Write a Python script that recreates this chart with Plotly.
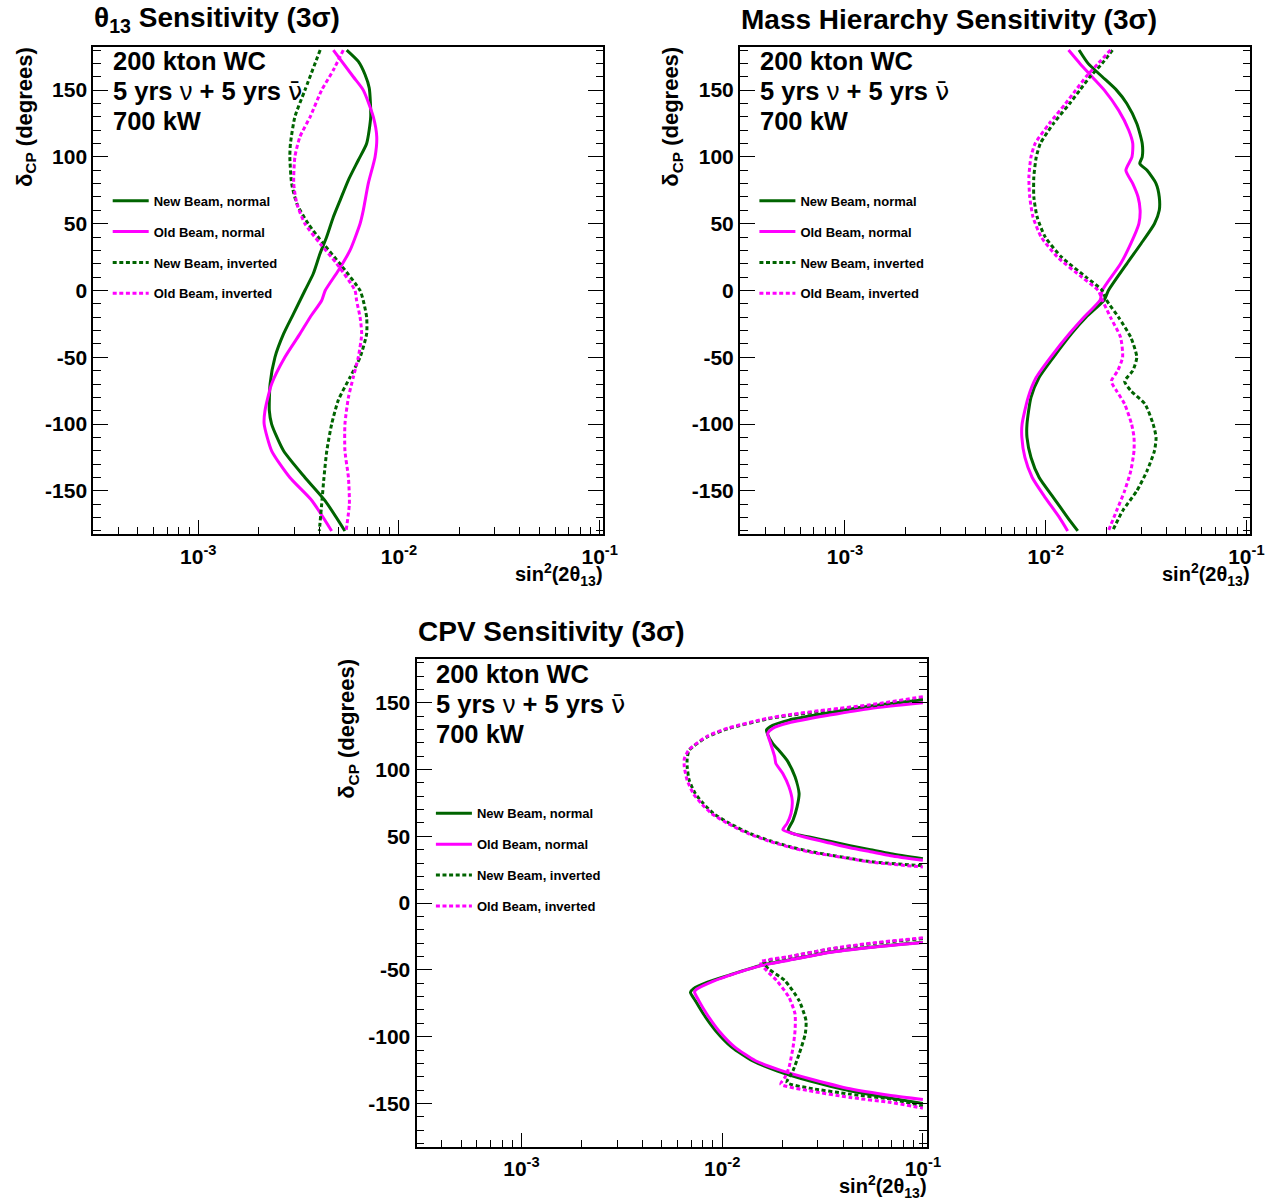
import plotly.graph_objects as go

W, H = 1275, 1203          # reference picture size (layout coordinates below)
FIG_W = 1290               # css width that the page capture maps onto 1275 px
FONT = "Liberation Sans, Arial, Helvetica, sans-serif"
GREEN = "#006400"
MAGENTA = "#ff00ff"

# ---------------- data: theta13 sensitivity ----------------
t13_new_norm_dcp = [180, 171.5, 161.5, 151.5, 130, 110, 97.5, 82.5, 67.5, 55, 40, 27.5, 12.5, 0, -17.5, -32.5, -50, -70, -90, -100, -120, -140, -157.5, -180]
t13_new_norm_s2 = [0.00549, 0.00627, 0.00678, 0.00711, 0.00723, 0.00690, 0.00627, 0.00559, 0.00509, 0.00471, 0.00436, 0.00404, 0.00374, 0.00340, 0.00298, 0.00266, 0.00241, 0.00228, 0.00226, 0.00232, 0.00266, 0.00340, 0.00429, 0.00538]

t13_old_norm_dcp = [180, 160, 150, 130, 115, 100, 80, 60, 50, 30, 15, 0, -7.5, -20, -32.5, -50, -70, -90, -100, -120, -140, -157, -180]
t13_old_norm_s2 = [0.00471, 0.00592, 0.00664, 0.00745, 0.00775, 0.00760, 0.00703, 0.00664, 0.00640, 0.00570, 0.00499, 0.00429, 0.00412, 0.00361, 0.00321, 0.00270, 0.00232, 0.00215, 0.00213, 0.00232, 0.00286, 0.00367, 0.00462]

t13_new_inv_dcp = [180, 150, 130, 110, 100, 80, 65, 50, 35, 20, 0, -7.5, -20, -32.5, -50, -65, -82, -100, -120, -140, -160, -180]
t13_new_inv_s2 = [0.00405, 0.00340, 0.00303, 0.00288, 0.00286, 0.00292, 0.00310, 0.00353, 0.00420, 0.00508, 0.00640, 0.00664, 0.00690, 0.00690, 0.00640, 0.00570, 0.00499, 0.00462, 0.00437, 0.00423, 0.00412, 0.00401]

t13_old_inv_dcp = [180, 165, 150, 130, 115, 100, 80, 65, 50, 35, 20, 0, -7.5, -20, -32.5, -50, -65, -80, -100, -120, -140, -160, -180]
t13_old_inv_s2 = [0.00528, 0.00471, 0.00412, 0.00361, 0.00321, 0.00303, 0.00299, 0.00310, 0.00340, 0.00405, 0.00490, 0.00604, 0.00615, 0.00640, 0.00652, 0.00627, 0.00592, 0.00560, 0.00538, 0.00538, 0.00560, 0.00566, 0.00545]

# ---------------- data: mass hierarchy sensitivity ----------------
mh_new_norm_dcp = [180, 170, 160, 150, 140, 125, 110, 100, 95, 90, 80, 70, 60, 50, 35, 20, 0, -7, -20, -32, -50, -65, -80, -100, -110, -125, -140, -155, -170, -180]
mh_new_norm_s2 = [0.01466, 0.01626, 0.01914, 0.02254, 0.02535, 0.02844, 0.03027, 0.03027, 0.02944, 0.03199, 0.03548, 0.03681, 0.03681, 0.03483, 0.02985, 0.02535, 0.02053, 0.01959, 0.01589, 0.01349, 0.01093, 0.00928, 0.00845, 0.00807, 0.00807, 0.00845, 0.00928, 0.01093, 0.01287, 0.01445]

mh_old_norm_dcp = [180, 170, 160, 150, 135, 120, 110, 100, 90, 80, 70, 60, 50, 35, 20, 0, -7, -20, -32, -50, -65, -80, -100, -110, -125, -140, -155, -170, -180]
mh_old_norm_s2 = [0.01300, 0.01480, 0.01702, 0.01959, 0.02307, 0.02594, 0.02716, 0.02692, 0.02509, 0.02716, 0.02886, 0.02955, 0.02914, 0.02655, 0.02361, 0.01914, 0.01870, 0.01551, 0.01318, 0.01057, 0.00898, 0.00818, 0.00763, 0.00761, 0.00788, 0.00857, 0.00995, 0.01172, 0.01287]

mh_new_inv_dcp = [180, 170, 160, 150, 140, 125, 110, 100, 85, 70, 55, 40, 25, 10, 0, -7, -20, -35, -50, -60, -68, -75, -85, -100, -110, -120, -135, -150, -165, -180]
mh_new_inv_s2 = [0.02152, 0.01914, 0.01663, 0.01480, 0.01318, 0.01093, 0.00941, 0.00898, 0.00873, 0.00873, 0.00907, 0.00995, 0.01200, 0.01589, 0.01914, 0.02005, 0.02307, 0.02655, 0.02844, 0.02716, 0.02474, 0.02655, 0.03126, 0.03431, 0.03548, 0.03483, 0.03199, 0.02844, 0.02417, 0.02152]

mh_old_inv_dcp = [180, 170, 160, 150, 140, 125, 110, 100, 85, 70, 55, 40, 25, 10, 0, -7, -20, -35, -50, -60, -68, -75, -85, -100, -110, -120, -135, -150, -165, -180]
mh_old_inv_s2 = [0.02102, 0.01827, 0.01589, 0.01413, 0.01257, 0.01043, 0.00886, 0.00845, 0.00825, 0.00833, 0.00865, 0.00950, 0.01145, 0.01515, 0.01827, 0.01914, 0.02102, 0.02361, 0.02417, 0.02286, 0.02122, 0.02254, 0.02474, 0.02679, 0.02755, 0.02755, 0.02655, 0.02474, 0.02254, 0.02053]

# ---------------- data: CPV sensitivity (two separate regions each) ----------------
cpv_new_norm_up_dcp = [152, 147.5, 142.5, 137, 133, 129.5, 126, 119.5, 114.5, 107, 94.5, 82, 72, 62, 54.5, 52, 49.5, 46.25, 43, 40, 37, 33.25]
cpv_new_norm_up_s2 = [0.1, 0.05474, 0.03431, 0.02152, 0.01784, 0.01663, 0.01687, 0.01784, 0.01914, 0.02102, 0.02307, 0.02417, 0.02361, 0.02254, 0.02131, 0.02254, 0.02717, 0.03431, 0.04334, 0.05474, 0.06917, 0.1]
cpv_new_norm_lo_dcp = [-29.25, -33, -36.75, -42.5, -46.75, -54.25, -59.25, -64.25, -66.75, -73, -83, -95.5, -108, -118, -125.5, -133, -140.5, -146, -150]
cpv_new_norm_lo_s2 = [0.1, 0.05474, 0.03431, 0.02152, 0.01551, 0.01068, 0.008453, 0.007178, 0.006947, 0.007346, 0.008065, 0.009278, 0.01119, 0.01413, 0.0187, 0.02717, 0.04334, 0.06917, 0.1]

cpv_old_norm_up_dcp = [150, 145.75, 140.75, 135, 130.75, 127, 119.5, 109.5, 104.5, 97, 87, 77, 67, 59.5, 55, 52, 48.5, 45, 41.5, 38.5, 35.5, 32]
cpv_old_norm_up_s2 = [0.1, 0.05474, 0.03431, 0.02152, 0.01784, 0.01687, 0.01743, 0.01827, 0.01852, 0.02005, 0.02152, 0.02233, 0.02202, 0.02102, 0.02005, 0.02254, 0.02717, 0.03431, 0.04334, 0.05474, 0.06917, 0.1]
cpv_old_norm_lo_dcp = [-29.5, -33.25, -37, -42.75, -47, -54.5, -59.5, -64.5, -66.5, -73, -83, -95.5, -108, -118, -125, -132, -139, -144, -147]
cpv_old_norm_lo_s2 = [0.1, 0.05474, 0.03431, 0.02152, 0.01551, 0.01068, 0.00870, 0.00745, 0.00728, 0.00765, 0.00838, 0.00962, 0.01160, 0.01465, 0.0194, 0.0282, 0.04334, 0.06917, 0.1]

cpv_new_inv_up_dcp = [153, 147.5, 144, 140.5, 138, 130.5, 124.5, 114.5, 108, 102, 92, 82, 74.5, 67, 59.5, 52, 46.5, 42, 38.5, 36, 33.5, 31, 28]
cpv_new_inv_up_s2 = [0.1, 0.05474, 0.03431, 0.02152, 0.01702, 0.01068, 0.008453, 0.00685, 0.006692, 0.006692, 0.00685, 0.007346, 0.00806, 0.00906, 0.01093, 0.0138, 0.01743, 0.02202, 0.0278, 0.03431, 0.04334, 0.05474, 0.1]
cpv_new_inv_lo_dcp = [-26.5, -30.5, -34.5, -40.25, -44.5, -49.25, -58, -73, -88, -98, -113, -125.5, -134.25, -138.5, -143, -146.75, -152]
cpv_new_inv_lo_s2 = [0.1, 0.05474, 0.03431, 0.02152, 0.0161, 0.01702, 0.02053, 0.02417, 0.02617, 0.02593, 0.02417, 0.02254, 0.02102, 0.02717, 0.04334, 0.06917, 0.1]

cpv_old_inv_up_dcp = [154.5, 148.5, 145, 141, 138.5, 131, 125, 115, 108, 102, 92, 82, 74.5, 67, 59.5, 52, 46.5, 42, 38.25, 35.75, 33.25, 30.75, 27]
cpv_old_inv_up_s2 = [0.1, 0.05474, 0.03431, 0.02152, 0.01702, 0.01068, 0.008453, 0.00685, 0.006477, 0.006477, 0.006692, 0.007178, 0.00788, 0.008858, 0.01068, 0.01348, 0.01702, 0.02152, 0.02717, 0.03431, 0.04334, 0.05474, 0.1]
cpv_old_inv_lo_dcp = [-26, -30, -34.25, -40, -44.25, -50.5, -58, -70.5, -83, -95.5, -108, -123, -130.5, -135.5, -140.5, -145.5, -149.25, -153.5]
cpv_old_inv_lo_s2 = [0.1, 0.05474, 0.03431, 0.02152, 0.01551, 0.01663, 0.0187, 0.02152, 0.02307, 0.02307, 0.02254, 0.02152, 0.02053, 0.01959, 0.02717, 0.04334, 0.06917, 0.1]

# ---------------- labels ----------------
series_names = ["New Beam, normal", "Old Beam, normal", "New Beam, inverted", "Old Beam, inverted"]
panel_titles = ["θ<sub>13</sub> Sensitivity (3σ)", "Mass Hierarchy Sensitivity (3σ)", "CPV Sensitivity (3σ)"]
info_lines = ["200 kton WC",
              "5 yrs <span style=\"font-weight:normal\">ν</span> + 5 yrs "
              "<span style=\"font-family:DejaVu Sans;font-weight:normal\">ν\u0304</span>",
              "700 kW"]
x_title = "sin<sup>2</sup>(2θ<sub>13</sub>)"
y_title = "δ<sub>CP</sub> (degrees)"
x_tickvals = [1e-3, 1e-2, 1e-1]
x_ticktext = ["10<sup>-3</sup>", "10<sup>-2</sup>", "10<sup>-1</sup>"]
y_tickvals = [-150, -100, -50, 0, 50, 100, 150]
y_ticktext = ["-150", "-100", "-50", "0", "50", "100", "150"]
x_minor = [m * 10.0 ** e for e in (-4, -3, -2) for m in range(2, 10) if m * 10.0 ** e > 3.05e-4]

# ---------------- layout geometry (reference pixels) ----------------
FW, FH = 510.0, 487.6
panels = [(93.3, 46.7), (740.0, 46.7), (416.5, 659.3)]


def px(xp):
    return xp / W


def py(yp):
    return 1 - yp / H


fig = go.Figure()

styles = [(GREEN, "solid"), (MAGENTA, "solid"), (GREEN, "4px,2.6px"), (MAGENTA, "4px,2.6px")]


def join(a, b):
    return a + [None] + b


panel_data = [
    [(t13_new_norm_s2, t13_new_norm_dcp), (t13_old_norm_s2, t13_old_norm_dcp),
     (t13_new_inv_s2, t13_new_inv_dcp), (t13_old_inv_s2, t13_old_inv_dcp)],
    [(mh_new_norm_s2, mh_new_norm_dcp), (mh_old_norm_s2, mh_old_norm_dcp),
     (mh_new_inv_s2, mh_new_inv_dcp), (mh_old_inv_s2, mh_old_inv_dcp)],
    [(join(cpv_new_norm_up_s2, cpv_new_norm_lo_s2), join(cpv_new_norm_up_dcp, cpv_new_norm_lo_dcp)),
     (join(cpv_old_norm_up_s2, cpv_old_norm_lo_s2), join(cpv_old_norm_up_dcp, cpv_old_norm_lo_dcp)),
     (join(cpv_new_inv_up_s2, cpv_new_inv_lo_s2), join(cpv_new_inv_up_dcp, cpv_new_inv_lo_dcp)),
     (join(cpv_old_inv_up_s2, cpv_old_inv_lo_s2), join(cpv_old_inv_up_dcp, cpv_old_inv_lo_dcp))],
]

annotations = []
layout_axes = {}
legends = {}

for p, (left, top) in enumerate(panels):
    sfx = "" if p == 0 else str(p + 1)
    for k, (xs, ys) in enumerate(panel_data[p]):
        col, dash = styles[k]
        fig.add_trace(go.Scatter(
            x=xs, y=ys, mode="lines", name=series_names[k],
            line=dict(color=col, width=3, dash=dash, shape="spline", smoothing=0.6),
            xaxis="x" + sfx, yaxis="y" + sfx,
            legend="legend" + sfx, legendgroup="g%d_%d" % (p, k),
            connectgaps=False, hoverinfo="skip",
        ))
    layout_axes["xaxis" + sfx] = dict(
        type="log", range=[-3.5229, -0.982], domain=[px(left), px(left + FW)],
        anchor="y" + sfx, showgrid=False, zeroline=False,
        showline=True, linecolor="black", linewidth=2, mirror=True,
        ticks="inside", ticklen=14, tickwidth=1.2, tickcolor="black",
        tickmode="array", tickvals=x_tickvals, ticktext=x_ticktext,
        tickfont=dict(family=FONT, size=21, color="black", weight="bold"),
        ticklabelstandoff=2,
        minor=dict(tickmode="array", tickvals=x_minor, ticklen=7, tickwidth=1.2,
                   tickcolor="black", ticks="inside", showgrid=False),
    )
    layout_axes["yaxis" + sfx] = dict(
        range=[-182.5, 182.5], domain=[py(top + FH), py(top)],
        anchor="x" + sfx, showgrid=False, zeroline=False,
        showline=True, linecolor="black", linewidth=2, mirror="ticks",
        ticks="inside", ticklen=15, tickwidth=1.2, tickcolor="black",
        tickmode="array", tickvals=y_tickvals, ticktext=y_ticktext,
        tickfont=dict(family=FONT, size=21, color="black", weight="bold"),
        ticklabelstandoff=0,
        minor=dict(dtick=10, tick0=0, ticklen=7.5, tickwidth=1.2,
                   tickcolor="black", ticks="inside", showgrid=False),
    )
    legends["legend" + sfx] = dict(
        x=px(left + 14.4), y=py(top + 139), xanchor="left", yanchor="top",
        bgcolor="rgba(0,0,0,0)", borderwidth=0, itemwidth=36,
        tracegroupgap=11, traceorder="grouped",
        font=dict(family=FONT, size=13, color="black", weight="bold"),
    )
    # panel title
    annotations.append(dict(
        text=panel_titles[p], xref="paper", yref="paper",
        x=px(left - 1), y=py(top - 27.5), xanchor="left", yanchor="middle",
        showarrow=False, font=dict(family=FONT, size=28, color="black", weight="bold"),
    ))
    # info text
    for i, line in enumerate(info_lines):
        annotations.append(dict(
            text=line, xref="paper", yref="paper",
            x=px(left + 17.5), y=py(top + 14.5 + 30 * i), xanchor="left", yanchor="middle",
            showarrow=False, font=dict(family=FONT, size=25.5, color="black", weight="bold"),
        ))
    # axis titles
    annotations.append(dict(
        text=x_title, xref="paper", yref="paper",
        x=px(left + FW + 2), y=py(top + FH + 40), xanchor="right", yanchor="middle",
        showarrow=False, font=dict(family=FONT, size=20, color="black", weight="bold"),
    ))
    annotations.append(dict(
        text=y_title, xref="paper", yref="paper", textangle=-90,
        x=px(left - 68), y=py(top - 2), xanchor="center", yanchor="top",
        showarrow=False, font=dict(family=FONT, size=22, color="black", weight="bold"),
    ))

fig.update_layout(
    width=FIG_W, height=H, margin=dict(l=0, r=0, t=0, b=0),
    paper_bgcolor="white", plot_bgcolor="white",
    font=dict(family=FONT, color="black"),
    showlegend=True, annotations=annotations,
    **layout_axes, **legends,
)

fig.write_html(
    "out.html",
    config={"displayModeBar": False, "responsive": False},
    post_script="document.body.style.margin='0px';document.body.style.overflow='hidden';",
)
